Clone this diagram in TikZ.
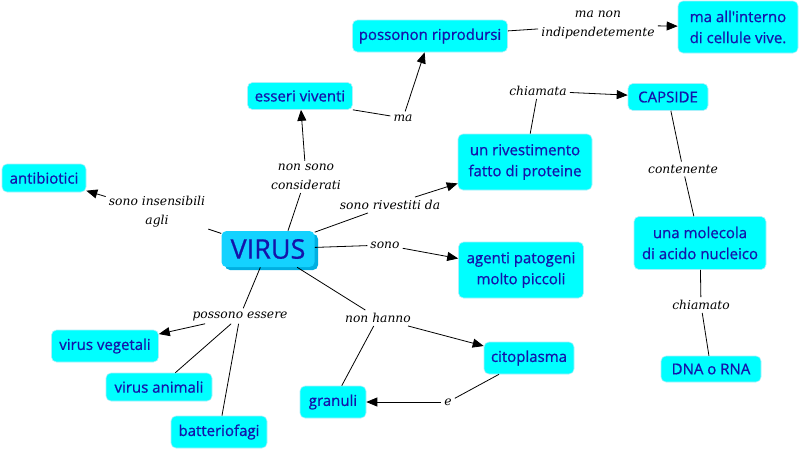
\documentclass[tikz,border=0pt]{standalone}
\usepackage{fontspec}
\newfontfamily\nodefont[FakeBold=0.7]{Open Sans}
\newfontfamily\lblfont{DejaVu Serif}
\usetikzlibrary{arrows.meta,calc}
\definecolor{boxfill}{RGB}{0,255,255}
\definecolor{boxline}{RGB}{170,240,250}
\definecolor{txtblue}{RGB}{20,20,170}
\definecolor{virusfill}{RGB}{20,210,255}
\definecolor{virusshade}{RGB}{0,175,225}
\tikzset{
  concept/.style={fill=boxfill,draw=boxline,line width=0.6pt,rounded corners=5pt,
    text=txtblue,font=\nodefont\fontsize{15}{21}\selectfont,align=center,inner sep=0pt},
  lbl/.style={font=\lblfont\itshape\fontsize{12.3}{19}\selectfont,align=center,inner sep=3pt,text=black},
  conn/.style={line width=0.8pt,black},
  arr/.style={conn,-{Triangle[length=11pt,width=9pt]}},
}
\begin{document}
\begin{tikzpicture}[x=1pt,y=-1pt]
\path[use as bounding box,fill=white] (0,0) rectangle (800,451);
% concepts
\fill[virusshade,rounded corners=5pt] (225,234) rectangle (318,270);
\node[concept,fill=virusfill,draw=none,minimum width=93pt,minimum height=36pt,font=\nodefont\fontsize{27}{28}\selectfont] (virus) at (268,249) {VIRUS};
\node[concept,minimum width=84pt,minimum height=28pt] (anti) at (44,178) {antibiotici};
\node[concept,minimum width=105pt,minimum height=27pt] (esseri) at (300,96) {esseri viventi};
\node[concept,minimum width=155pt,minimum height=32pt] (posson) at (430,36) {possonon riprodursi};
\node[concept,minimum width=120pt,minimum height=52pt] (interno) at (738,27) {ma all'interno\\ di cellule vive.};
\node[concept,minimum width=80pt,minimum height=27pt] (capside) at (668,97) {CAPSIDE};
\node[concept,minimum width=134pt,minimum height=56pt] (riv) at (525,162) {un rivestimento\\fatto di proteine};
\node[concept,minimum width=125pt,minimum height=56pt] (agenti) at (521,270) {agenti patogeni\\molto piccoli};
\node[concept,minimum width=132pt,minimum height=53pt] (molec) at (700,243) {una molecola\\di acido nucleico};
\node[concept,minimum width=100pt,minimum height=26pt] (dna) at (711,369) {DNA o RNA};
\node[concept,minimum width=90pt,minimum height=32pt] (cito) at (529,358) {citoplasma};
\node[concept,minimum width=66pt,minimum height=32pt] (gran) at (333,402) {granuli};
\node[concept,minimum width=107pt,minimum height=32pt] (veg) at (105,346) {virus vegetali};
\node[concept,minimum width=106pt,minimum height=28pt] (anim) at (159,387) {virus animali};
\node[concept,minimum width=96pt,minimum height=32pt] (batt) at (219,432) {batteriofagi};
% labels
\node[lbl] (lnc) at (306,177) {non sono\\considerati};
\node[lbl] (lins) at (157,212) {sono insensibili\\agli};
\node[lbl] (lma) at (403,118) {ma};
\node[lbl] (lmanon) at (598,25) {ma non\\indipendetemente};
\node[lbl] (lriv) at (390,205) {sono rivestiti da};
\node[lbl] (lchiam) at (538,91) {chiamata};
\node[lbl] (lcont) at (683,169) {contenente};
\node[lbl] (lchiamo) at (701,305) {chiamato};
\node[lbl] (lsono) at (385,245) {sono};
\node[lbl] (lnon) at (378,318) {non hanno};
\node[lbl] (le) at (448,402) {e};
\node[lbl] (lposs) at (240,316) {possono essere};
% connectors
\draw[conn] (virus.north) ++(20,0) coordinate (v1) -- (lnc);
\draw[arr] (lnc) -- (esseri);
\draw[conn] (virus) -- (lins);
\draw[arr] (lins) -- (anti);
\draw[conn] (esseri.south east) -- (lma);
\draw[arr] (lma) -- (posson);
\draw[conn] (posson) -- (lmanon);
\draw[arr] (lmanon) -- (interno);
\draw[conn] (virus) -- (lriv);
\draw[arr] (lriv) -- (riv);
\draw[conn] (riv) -- (lchiam);
\draw[arr] (lchiam) -- (capside);
\draw[conn] (capside) -- (lcont);
\draw[conn] (lcont) -- (molec);
\draw[conn] (molec) -- (lchiamo);
\draw[conn] (lchiamo) -- (dna);
\draw[conn] (virus) -- (lsono);
\draw[arr] (lsono) -- (agenti);
\draw[conn] (virus) -- (lnon);
\draw[arr] (lnon) -- (cito);
\draw[conn] (lnon) -- (gran);
\draw[conn] (cito) -- (le);
\draw[arr] (le) -- (gran);
\draw[conn] (virus) -- (lposs);
\draw[arr] (lposs) -- (veg);
\draw[conn] (lposs) -- (anim);
\draw[conn] (lposs) -- (batt);
\end{tikzpicture}
\end{document}
